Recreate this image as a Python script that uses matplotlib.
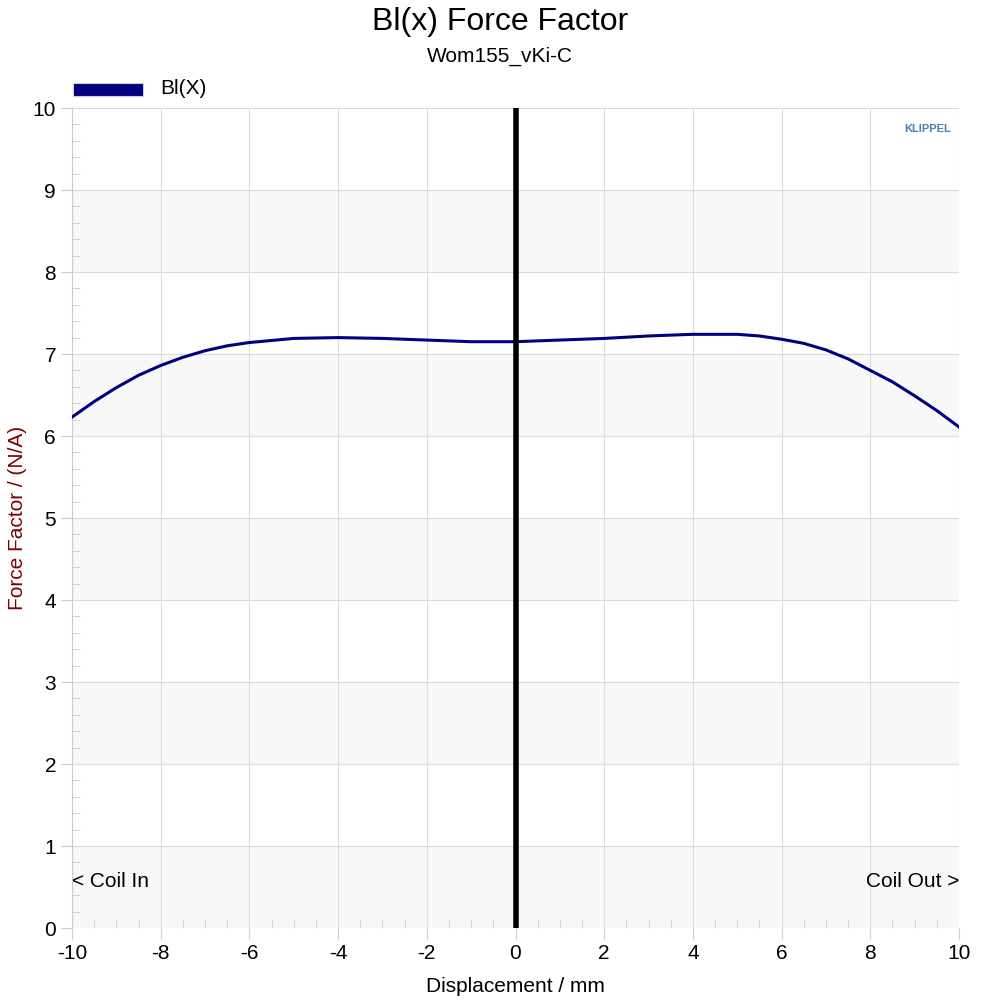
import matplotlib.pyplot as plt
import numpy as np

plt.rcParams['font.family'] = ['Liberation Sans', 'DejaVu Sans']
plt.rcParams['axes.unicode_minus'] = False

# Bl(x) curve
disp = [-10, -9.5, -9, -8.5, -8, -7.5, -7, -6.5, -6, -5, -4, -3, -2, -1, 0, 1, 2, 3, 4,
        5, 5.5, 6, 6.5, 7, 7.5, 8, 8.5, 9, 9.5, 10]
bl = [6.23, 6.42, 6.59, 6.74, 6.86, 6.96, 7.04, 7.10, 7.14, 7.19, 7.20, 7.19, 7.17, 7.15,
      7.15, 7.17, 7.19, 7.22, 7.24, 7.24, 7.22, 7.18, 7.13, 7.05, 6.94, 6.80, 6.66, 6.49,
      6.31, 6.11]

fig = plt.figure(figsize=(10, 10), dpi=100)
ax = fig.add_axes([0.072, 0.072, 0.887, 0.82])

for k in range(0, 10, 2):
    ax.axhspan(k, k + 1, color='#f8f8f8', zorder=0)

ax.plot(disp, bl, color='#000080', lw=2.2, zorder=3)
ax.axvline(0, color='black', lw=4, zorder=4)

ax.set_xlim(-10, 10)
ax.set_ylim(0, 10)
ax.set_xticks(range(-10, 11, 2))
ax.set_yticks(range(0, 11))
ax.set_xticks(np.arange(-10, 10.01, 0.5), minor=True)
ax.set_yticks(np.arange(0, 10.01, 0.2), minor=True)
ax.grid(True, which='major', color='#dcdcdc', lw=0.8, zorder=1)
ax.tick_params(which='major', length=8, color='#cccccc', labelsize=15, direction='out')
ax.tick_params(which='minor', length=6, color='#cccccc', direction='in')
for s in ax.spines.values():
    s.set_visible(False)
ax.spines['left'].set_visible(True)
ax.spines['left'].set_color('#cccccc')

ax.set_xlabel('Displacement / mm', fontsize=15, labelpad=10)
ax.set_ylabel('Force Factor / (N/A)', fontsize=15, color='#800000', labelpad=4)

fig.text(0.5, 0.978, 'Bl(x) Force Factor', ha='center', va='center', fontsize=23)
fig.text(0.5, 0.944, 'Wom155_vKi-C', ha='center', va='center', fontsize=15)

fig.patches.append(plt.Rectangle((0.073, 0.904), 0.07, 0.013, transform=fig.transFigure,
                                 facecolor='#000080', edgecolor='#cccccc', lw=0.8))
fig.text(0.16, 0.911, 'Bl(X)', va='center', fontsize=15)

ax.text(0.0, 0.057, '< Coil In', transform=ax.transAxes, fontsize=15, va='center', ha='left')
ax.text(1.0, 0.057, 'Coil Out >', transform=ax.transAxes, fontsize=15, va='center', ha='right')
ax.text(0.965, 0.975, 'KLIPPEL', transform=ax.transAxes, fontsize=8, fontweight='bold',
        color='#4a7eb0', ha='center', va='center')

plt.savefig('out.png')
